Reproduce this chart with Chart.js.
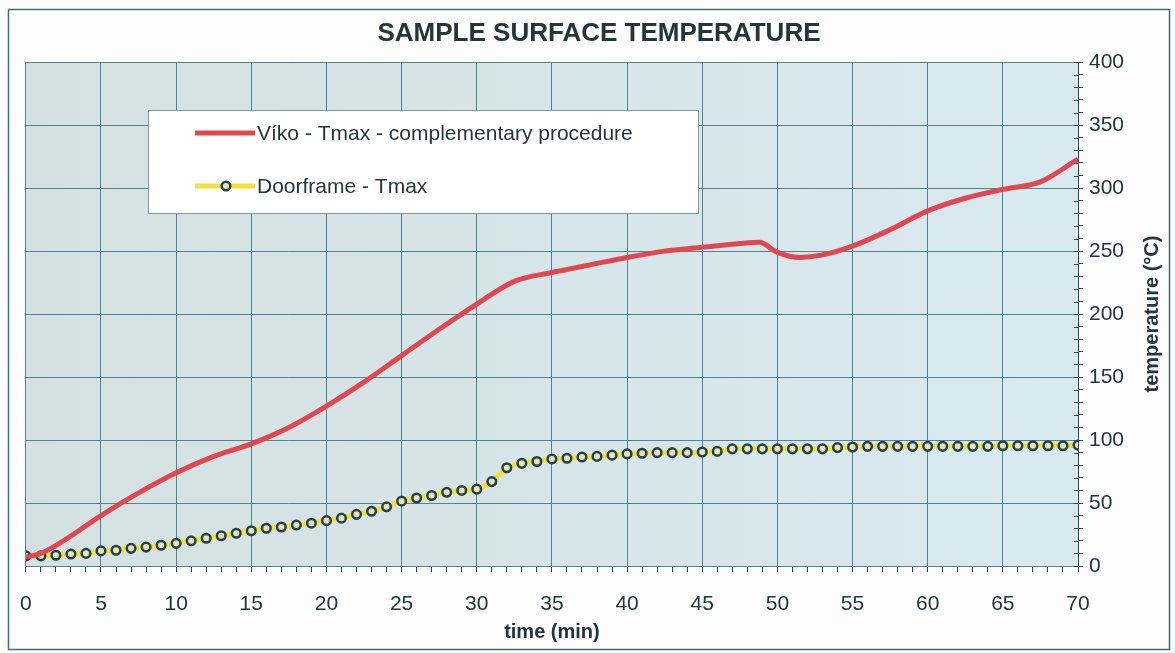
<!DOCTYPE html>
<html>
<head>
<meta charset="utf-8">
<script src="https://cdn.jsdelivr.net/npm/chart.js@4.4.1/dist/chart.umd.min.js"></script>
<style>
html, body { margin: 0; padding: 0; background: #ffffff; }
canvas { display: block; }
</style>
</head>
<body>
<canvas id="myChart" width="1175" height="653"></canvas>
<script>
// time (min) / temperature (°C)
const vikoTimes = [0, 1, 2.5, 5, 7.5, 10, 12.5, 15, 17.5, 20, 22.5, 25, 27.5, 30, 32.5, 35, 37.5, 40, 42.5, 45, 47.5, 48.8, 50, 51.5, 53, 55, 57.5, 60, 62.5, 65, 67.5, 70];
const vikoTemps = [7, 10, 20, 40, 58, 74, 87, 97, 110, 127, 146, 167, 188, 208, 226, 233, 239, 245, 250, 253, 256, 257, 249, 245, 247, 254, 267, 282, 292, 299, 305, 323];

const doorTimes = [0, 1, 2, 3, 4, 5, 6, 7, 8, 9, 10, 11, 12, 13, 14, 15, 16, 17, 18, 19, 20,
  21, 22, 23, 24, 25, 26, 27, 28, 29, 30, 31, 32, 33, 34, 35, 36, 37, 38, 39, 40,
  41, 42, 43, 44, 45, 46, 47, 48, 49, 50, 51, 52, 53, 54, 55, 56, 57, 58, 59, 60,
  61, 62, 63, 64, 65, 66, 67, 68, 69, 70];
const doorTemps = [8, 8, 8.5, 9.5, 10, 12, 12.5, 14, 15, 16.5, 18, 20, 22, 24, 26, 28, 30, 31, 32.5, 34, 36,
  38, 41, 43.5, 47, 51.5, 54, 56, 58.5, 60, 61, 67, 78, 81.5, 83, 85, 85.5, 86.5, 87, 88, 89,
  89.5, 90, 90, 90, 90.5, 91, 93, 93, 93, 93, 93, 93, 93, 94, 94.5, 95, 95, 95, 95, 95,
  95, 95, 95, 95, 95.5, 95.5, 95.5, 95.5, 95.5, 96];

const xLabels = [0, 5, 10, 15, 20, 25, 30, 35, 40, 45, 50, 55, 60, 65, 70];
const yLabels = [0, 50, 100, 150, 200, 250, 300, 350, 400];

const seriesNames = ['Víko - Tmax - complementary procedure', 'Doorframe - Tmax'];

const FONT = "'Liberation Sans', Arial, sans-serif";
const TEXT = '#23363c';
const GRID = '#52838f';

function toPoints(xs, ys) {
  return xs.map((x, i) => ({ x: x, y: ys[i] }));
}

const backdrop = {
  id: 'backdrop',
  beforeDraw(chart) {
    const c = chart.ctx;
    const a = chart.chartArea;
    c.save();
    c.fillStyle = '#fdfdfd';
    c.fillRect(0, 0, chart.width, chart.height);
    c.strokeStyle = '#3f6f7a';
    c.lineWidth = 1.5;
    c.strokeRect(8.5, 9.5, 1161, 640);
    const g = c.createLinearGradient(a.left, 0, a.right, 0);
    g.addColorStop(0, '#d4e1e2');
    g.addColorStop(1, '#d8e9f0');
    c.fillStyle = g;
    c.fillRect(a.left, a.top, a.right - a.left, a.bottom - a.top);
    c.restore();
  },
  afterDraw(chart) {
    const c = chart.ctx;
    const a = chart.chartArea;
    const y = chart.scales.y;
    c.save();
    // minor ticks on the inside of the right axis
    c.strokeStyle = '#2e4a52';
    c.lineWidth = 1;
    y.ticks.forEach(t => {
      const py = Math.round(y.getPixelForValue(t.value)) + 0.5;
      c.beginPath();
      c.moveTo(a.right - 4, py);
      c.lineTo(a.right, py);
      c.stroke();
    });
    // y axis title, reading bottom to top
    c.translate(1152, 314);
    c.rotate(-Math.PI / 2);
    c.fillStyle = TEXT;
    c.font = 'bold 20px ' + FONT;
    c.textAlign = 'center';
    c.textBaseline = 'middle';
    c.fillText('temperature (°C)', 0, 0);
    c.restore();
  }
};

const boxLegend = {
  id: 'boxLegend',
  afterDatasetsDraw(chart) {
    const c = chart.ctx;
    const ds = chart.data.datasets;
    c.save();
    c.fillStyle = '#ffffff';
    c.fillRect(148, 110, 550, 103);
    c.strokeStyle = '#7d9aa2';
    c.lineWidth = 1;
    c.strokeRect(148.5, 110.5, 550, 103);
    const rows = [133, 186];
    ds.forEach((d, i) => {
      const ry = rows[i];
      c.strokeStyle = d.borderColor;
      c.lineWidth = d.borderWidth;
      c.beginPath();
      c.moveTo(195, ry);
      c.lineTo(255, ry);
      c.stroke();
      if (d.pointRadius > 0) {
        c.beginPath();
        c.arc(226, ry, d.pointRadius, 0, Math.PI * 2);
        c.fillStyle = d.pointBackgroundColor;
        c.fill();
        c.lineWidth = d.pointBorderWidth;
        c.strokeStyle = d.pointBorderColor;
        c.stroke();
      }
      c.fillStyle = TEXT;
      c.font = '21px ' + FONT;
      c.textAlign = 'left';
      c.textBaseline = 'middle';
      c.fillText(d.label, 257, ry + 1);
    });
    c.restore();
  }
};

const ctx = document.getElementById('myChart').getContext('2d');
const myChart = new Chart(ctx, {
  type: 'line',
  data: {
    datasets: [{
      label: seriesNames[0],
      data: toPoints(vikoTimes, vikoTemps),
      borderColor: '#e04851',
      borderWidth: 5,
      pointRadius: 0,
      cubicInterpolationMode: 'monotone'
    }, {
      label: seriesNames[1],
      data: toPoints(doorTimes, doorTemps),
      borderColor: '#f0e03a',
      borderWidth: 5,
      pointRadius: 4.3,
      pointBorderWidth: 2.5,
      pointBorderColor: '#2a403f',
      pointBackgroundColor: '#e2e5c4',
      tension: 0.3
    }]
  },
  options: {
    responsive: false,
    animation: false,
    layout: { padding: { left: 23, top: 0, right: 0, bottom: 0 } },
    plugins: {
      legend: { display: false },
      tooltip: { enabled: false },
      title: {
        display: true,
        text: 'SAMPLE SURFACE TEMPERATURE',
        color: TEXT,
        font: { family: FONT, size: 26, weight: 'bold' },
        padding: { top: 18, bottom: 13 }
      }
    },
    scales: {
      x: {
        type: 'linear',
        min: 0,
        max: 70,
        afterFit(scale) { scale.height = 87; },
        ticks: {
          stepSize: 1,
          autoSkip: false,
          maxRotation: 0,
          padding: 20,
          color: TEXT,
          font: { family: FONT, size: 21 },
          callback: v => xLabels.includes(v) ? String(v) : ''
        },
        grid: {
          color: c => xLabels.includes(c.tick.value) ? GRID : 'rgba(0,0,0,0)',
          tickColor: '#2e4a52',
          tickLength: 6,
          lineWidth: 1
        },
        border: { color: GRID },
        title: {
          display: true,
          text: 'time (min)',
          color: TEXT,
          font: { family: FONT, size: 20, weight: 'bold' },
          padding: { top: 0, bottom: 9 }
        }
      },
      y: {
        position: 'right',
        min: 0,
        max: 400,
        afterFit(scale) { scale.width = 97; },
        ticks: {
          stepSize: 10,
          autoSkip: false,
          padding: 6,
          color: TEXT,
          font: { family: FONT, size: 21 },
          callback: v => yLabels.includes(v) ? String(v) : ''
        },
        grid: {
          color: c => yLabels.includes(c.tick.value) ? GRID : 'rgba(0,0,0,0)',
          tickColor: '#2e4a52',
          tickLength: 5,
          lineWidth: 1
        },
        border: { color: '#2e4a52' }
      }
    }
  },
  plugins: [backdrop, boxLegend]
});
</script>
</body>
</html>
